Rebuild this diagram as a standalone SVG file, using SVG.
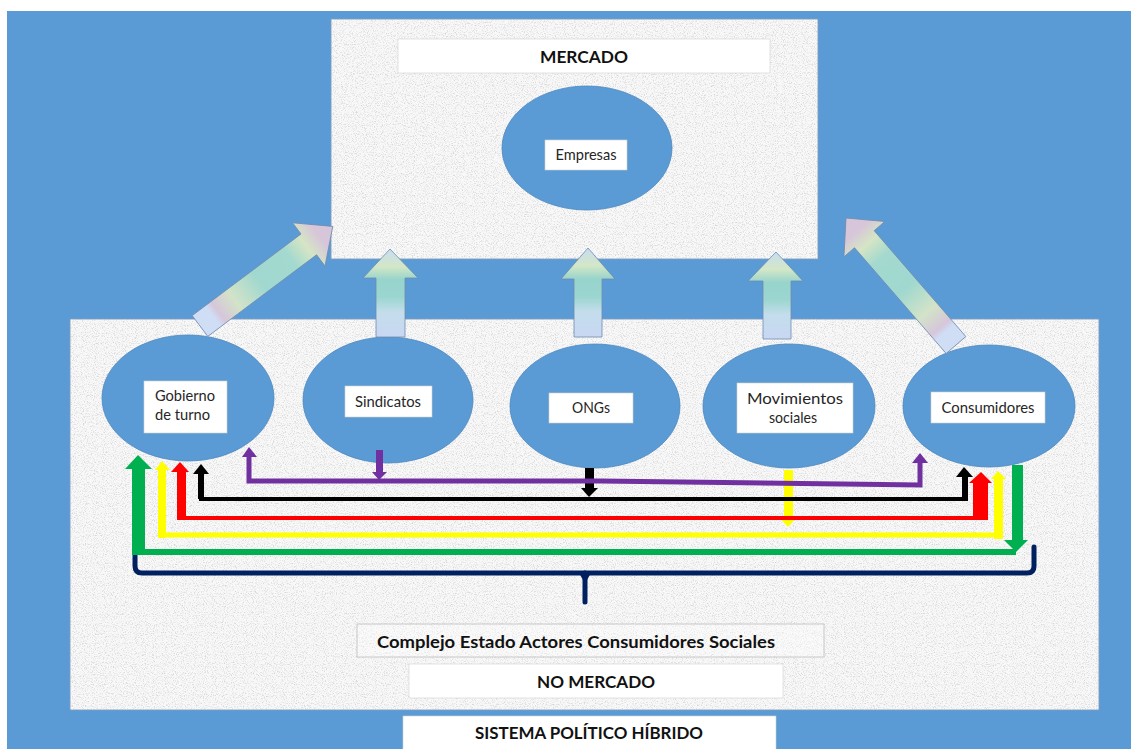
<svg xmlns="http://www.w3.org/2000/svg" width="1131" height="749" viewBox="0 0 1131 749">
<defs>
<style>
.panel{fill:#F8F8F8;stroke:#7D9CC2;stroke-width:1}
.ell{fill:#5B9BD5;stroke:#4A86BF;stroke-width:0.8}
.lbl{fill:#FFFFFF;stroke:#D0D0D0;stroke-width:0.6}
.t{font-family:"Lato","Liberation Sans",Arial,sans-serif;font-size:15px;fill:#262626}
.tb{font-family:"Lato","Liberation Sans",Arial,sans-serif;font-weight:bold;font-size:17px;fill:#111111}
.blk{stroke:#6F8CB0;stroke-width:0.8}
</style>
<filter id="grain" x="0" y="0" width="100%" height="100%">
<feTurbulence type="fractalNoise" baseFrequency="0.9" numOctaves="2" seed="7" result="t"/>
<feColorMatrix in="t" type="matrix" values="0 0 0 0 0.68  0 0 0 0 0.68  0 0 0 0 0.68  3.2 0 0 0 -1.55" result="n"/>
<feComposite in="n" in2="SourceGraphic" operator="in"/>
</filter>
<linearGradient id="gUp" x1="0" y1="1" x2="0" y2="0">
<stop offset="0" stop-color="#C8D7F3"/>
<stop offset="0.28" stop-color="#C4DDEC"/>
<stop offset="0.45" stop-color="#9BD6D0"/>
<stop offset="0.65" stop-color="#97D4CC"/>
<stop offset="0.8" stop-color="#D3E7C6"/>
<stop offset="1" stop-color="#C8DDF2"/>
</linearGradient>
<linearGradient id="gDiag" x1="0" y1="1" x2="0" y2="0">
<stop offset="0" stop-color="#CFDDF5"/>
<stop offset="0.1" stop-color="#CFDDF5"/>
<stop offset="0.14" stop-color="#D6C6DA"/>
<stop offset="0.26" stop-color="#D3E3C8"/>
<stop offset="0.45" stop-color="#A0D8CF"/>
<stop offset="0.68" stop-color="#A3D9CF"/>
<stop offset="0.8" stop-color="#D5E5C5"/>
<stop offset="0.9" stop-color="#D7C6D9"/>
<stop offset="1" stop-color="#D7C6D9"/>
</linearGradient>
</defs>

<rect x="0" y="0" width="1131" height="749" fill="#FFFFFF"/>
<rect x="7" y="11" width="1124" height="738" fill="#5B9BD5"/>

<g id="panel-mercado">
<rect class="panel" x="331" y="19" width="487" height="240"/>
<rect x="331" y="19" width="487" height="240" fill="#FFFFFF" filter="url(#grain)"/>
<rect class="lbl" x="398" y="39" width="372" height="34"/>
<text class="tb" x="584" y="63" text-anchor="middle" textLength="88" lengthAdjust="spacingAndGlyphs">MERCADO</text>
</g>

<g id="panel-nomercado">
<rect class="panel" x="70" y="319" width="1029" height="391"/>
<rect x="70" y="319" width="1029" height="391" fill="#FFFFFF" filter="url(#grain)"/>
<rect x="357" y="624" width="467" height="33" fill="#FFFFFF" fill-opacity="0.35" stroke="#C8C8C8" stroke-width="1"/>
<text class="tb" x="576" y="648" text-anchor="middle" font-size="16" textLength="398" lengthAdjust="spacingAndGlyphs">Complejo Estado Actores Consumidores Sociales</text>
<rect class="lbl" x="409" y="664" width="374" height="34"/>
<text class="tb" x="596" y="688" text-anchor="middle" textLength="118" lengthAdjust="spacingAndGlyphs">NO MERCADO</text>
</g>

<g id="title">
<rect x="403" y="716" width="373" height="40" fill="#FFFFFF" stroke="#D0D0D0" stroke-width="0.6"/>
<text class="tb" x="589" y="739" text-anchor="middle" textLength="228" lengthAdjust="spacingAndGlyphs">SISTEMA POLÍTICO HÍBRIDO</text>
</g>

<g id="node-empresas">
<ellipse class="ell" cx="587" cy="148" rx="85" ry="62"/>
<rect class="lbl" x="545" y="140" width="82" height="30"/>
<text class="t" x="586" y="160" text-anchor="middle" textLength="61" lengthAdjust="spacingAndGlyphs">Empresas</text>
</g>

<g id="node-gobierno">
<ellipse class="ell" cx="188" cy="398" rx="86" ry="63"/>
<rect class="lbl" x="144" y="381" width="83" height="52"/>
<text class="t" x="155" y="401" textLength="60" lengthAdjust="spacingAndGlyphs">Gobierno</text>
<text class="t" x="155" y="420" textLength="55" lengthAdjust="spacingAndGlyphs">de turno</text>
</g>

<g id="node-sindicatos">
<ellipse class="ell" cx="388" cy="400" rx="85" ry="63"/>
<rect class="lbl" x="345" y="386" width="87" height="31"/>
<text class="t" x="388" y="407" text-anchor="middle" textLength="66" lengthAdjust="spacingAndGlyphs">Sindicatos</text>
</g>

<g id="node-ongs">
<ellipse class="ell" cx="595" cy="406" rx="85" ry="62"/>
<rect class="lbl" x="549" y="393" width="84" height="30"/>
<text class="t" x="591" y="413" text-anchor="middle" textLength="38" lengthAdjust="spacingAndGlyphs">ONGs</text>
</g>

<g id="node-movimientos">
<ellipse class="ell" cx="789" cy="406" rx="86" ry="62"/>
<rect class="lbl" x="737" y="383" width="116" height="50"/>
<text class="t" x="795" y="404" text-anchor="middle" textLength="96" lengthAdjust="spacingAndGlyphs">Movimientos</text>
<text class="t" x="793" y="423" text-anchor="middle" textLength="48" lengthAdjust="spacingAndGlyphs">sociales</text>
</g>

<g id="node-consumidores">
<ellipse class="ell" cx="989" cy="406" rx="86" ry="61"/>
<rect class="lbl" x="931" y="392" width="114" height="31"/>
<text class="t" x="988" y="413" text-anchor="middle" textLength="93" lengthAdjust="spacingAndGlyphs">Consumidores</text>
</g>

<g id="connectors">
<!-- block arrows to MERCADO -->
<polygon class="blk" fill="url(#gDiag)" transform="translate(200,326) rotate(53.13)" points="-13,0 13,0 13,-136 27,-136 0,-166 -27,-136 -13,-136"/>
<polygon class="blk" fill="url(#gUp)" points="376,337 405,337 405,278 418,278 390,249 363,278 376,278"/>
<polygon class="blk" fill="url(#gUp)" points="574,337 602,337 602,279 615,279 588,248 561,279 574,279"/>
<polygon class="blk" fill="url(#gUp)" points="763,339 791,339 791,281 803,281 776,252 748,281 763,281"/>
<polygon class="blk" fill="url(#gDiag)" transform="translate(956,345) rotate(-40.9)" points="-13,0 13,0 13,-140 27,-140 0,-168 -27,-140 -13,-140"/>

<!-- navy brace -->
<path d="M135,553 V566 Q135,573 142,573 H1027 Q1034,573 1034,566 V547" fill="none" stroke="#002060" stroke-width="5" stroke-linecap="round"/>
<path d="M585,573 V602" fill="none" stroke="#002060" stroke-width="5" stroke-linecap="round"/>
<polygon points="578,571 592,571 587,580 583,580" fill="#002060"/>

<!-- green -->
<rect x="132" y="467" width="13" height="88" fill="#00B050"/>
<path d="M132,552 H1016" stroke="#00B050" stroke-width="6" fill="none"/>
<polygon points="125,469 152,469 138,455" fill="#00B050"/>
<rect x="1012" y="465" width="11" height="76" fill="#00B050"/>
<polygon points="1004,540 1028,540 1016,552" fill="#00B050"/>

<!-- yellow -->
<rect x="158" y="469" width="8" height="69" fill="#FFFF00"/>
<path d="M158,535 H1003" stroke="#FFFF00" stroke-width="5" fill="none"/>
<polygon points="155,470 170,470 162,461" fill="#FFFF00"/>
<rect x="994" y="478" width="9" height="61" fill="#FFFF00"/>
<polygon points="991,479 1006,479 998,471" fill="#FFFF00"/>
<rect x="784" y="470" width="9" height="48" fill="#FFFF00"/>
<polygon points="778,516 798,516 788,527" fill="#FFFF00"/>

<!-- red -->
<rect x="177" y="471" width="9" height="49" fill="#FF0000"/>
<path d="M177,518 H988" stroke="#FF0000" stroke-width="4" fill="none"/>
<polygon points="171,472 189,472 180,462" fill="#FF0000"/>
<rect x="973" y="482" width="15" height="38" fill="#FF0000"/>
<polygon points="969,483 992,483 981,472" fill="#FF0000"/>

<!-- black -->
<path d="M201,472 V499 H965 V476" stroke="#000000" stroke-width="4" fill="none"/>
<rect x="198" y="472" width="6" height="27" fill="#000000"/>
<polygon points="193,474 209,474 201,464" fill="#000000"/>
<rect x="962" y="476" width="6" height="25" fill="#000000"/>
<polygon points="956,477 973,477 964,467" fill="#000000"/>
<rect x="585" y="468" width="9" height="22" fill="#000000"/>
<polygon points="581,488 598,488 589,497" fill="#000000"/>

<!-- purple -->
<path d="M249,455 V481 H600 L920,485 V462" stroke="#7030A0" stroke-width="5" fill="none"/>
<polygon points="242,457 257,457 249,447" fill="#7030A0"/>
<polygon points="912,463 928,463 920,453" fill="#7030A0"/>
<rect x="376" y="450" width="7" height="24" fill="#7030A0"/>
<polygon points="372,472 387,472 379,480" fill="#7030A0"/>
</g>
</svg>
